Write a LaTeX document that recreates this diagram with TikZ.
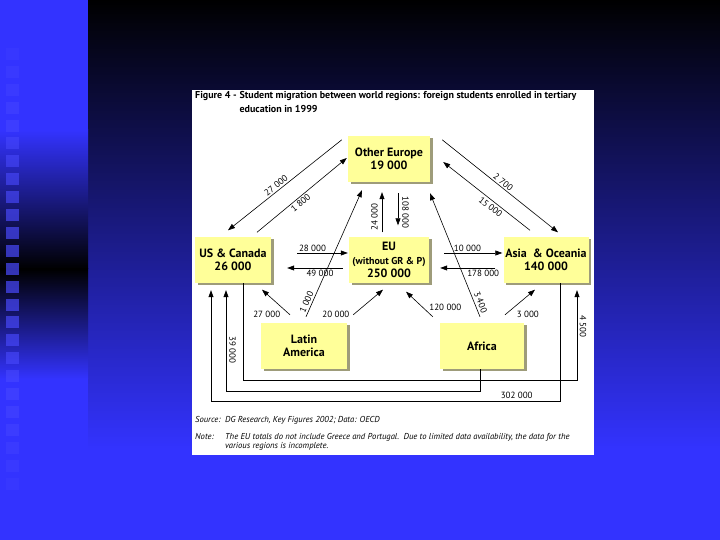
\documentclass[tikz,border=0pt]{standalone}
\usepackage{fontspec}
\setmainfont{PT Sans}
\usetikzlibrary{arrows.meta, positioning, calc, shadows}
\definecolor{slideblue}{HTML}{3333FF}
\definecolor{squareblue}{HTML}{4A4AFF}
\definecolor{boxyellow}{HTML}{FFFF99}
\definecolor{boxshade}{HTML}{9E9C7A}

\begin{document}
\begin{tikzpicture}[x=1pt, y=1pt,
    region/.style={fill=boxyellow, minimum width=#1, minimum height=46pt,
      align=center, inner sep=1pt, font=\fontsize{12}{13.5}\selectfont\bfseries,
      drop shadow={shadow xshift=2.5pt, shadow yshift=-2.5pt, fill=boxshade, opacity=1}},
    flow/.style={line width=0.6pt, -{Triangle[length=7pt, width=5pt]}},
    num/.style={font=\fontsize{9}{10}\selectfont, inner sep=1.5pt}]
  \useasboundingbox (0,0) rectangle (720,540);

  % Slide background
  \fill[slideblue] (0,0) rectangle (720,540);
  \shade[top color=black, bottom color=slideblue] (88,90) rectangle (720,540);
  \shade[top color=slideblue, bottom color=black] (0,271) rectangle (88,410);
  \shade[top color=black, bottom color=slideblue] (0,161) rectangle (88,271);
  \foreach \k in {0,...,24}
    \fill[squareblue, opacity={0.2+0.5*sin(\k*7.5)}] (6,492-17.9*\k) rectangle ++(12.5,-12);

  % Figure panel
  \fill[white] (192,85) rectangle (594,450);
  \node[anchor=base west, inner sep=0pt, font=\fontsize{10}{14}\selectfont\bfseries] (title) at (195,441)
    {\begin{tabular}[t]{@{}l@{\hspace{3pt}}l@{}}
      Figure 4 - & Student migration between world regions: foreign students enrolled in tertiary\\
      & education in 1999
    \end{tabular}};

  % Regions
  \node[region=82pt] (oe) at (389,381) {Other Europe\\19 000};
  \node[region=76pt] (us) at (233,280) {US \& Canada\\26 000};
  \node[region=80pt] (eu) at (389,280) {EU\\{\fontsize{10}{11.5}\selectfont(without GR \& P)}\\250 000};
  \node[region=85pt] (ao) at (546,280) {Asia~ \& Oceania\\140 000};
  \node[region=86pt] (la) at (304,194) {Latin\\America};
  \node[region=84pt] (af) at (482,194) {Africa};

  % Flows to and from Other Europe
  \draw[flow] ($(oe.north west)+(-6,-4)$) -- node[num, pos=0.55, sloped, above] {27 000} ($(us.north)+(-5,6.5)$);
  \draw[flow] ($(us.north)+(24,4.5)$) -- node[num, pos=0.45, sloped, below] {1 800} ($(oe.west)+(-1,1)$);
  \draw[flow] ($(oe.north east)+(12,-4)$) -- node[num, pos=0.5, sloped, above] {2 700} ($(ao.north)+(12,4.5)$);
  \draw[flow] ($(ao.north)+(-16,6.5)$) -- node[num, pos=0.41, sloped, below, inner sep=2.5pt] {15 000} ($(oe.east)+(13,-3)$);
  \draw[flow] ($(eu.north)+(-7,4.5)$) -- node[num, pos=0.375, rotate=90, anchor=south, inner sep=4pt] {24 000} ($(oe.south)+(-7,-10)$);
  \draw[flow] ($(oe.south)+(9,-11)$) -- node[num, pos=0.61, rotate=-90, anchor=south, inner sep=4pt] {108 000} ($(eu.north)+(9,11.5)$);
  \draw[flow] ($(la.north)+(2,6)$) -- node[num, pos=0.1, sloped, above, inner sep=2pt] {1 000} ($(oe.south)+(-27,-8)$);
  \draw[flow] ($(af.north)+(-2,6)$) -- node[num, pos=0.1, sloped, above, inner sep=2.5pt] {3 400} ($(oe.south)+(41,-11)$);

  % Flows along the middle row
  \draw[flow] ($(us.east)+(26,7)$) -- node[num, pos=0, anchor=south west] {28 000} ($(eu.west)+(-1,7)$);
  \draw[flow] ($(eu.west)+(-6,-8)$) -- node[num, pos=0.41, below] {49 000} ($(us.east)+(16,-8)$);
  \draw[flow] ($(eu.east)+(15,7)$) -- node[num, pos=0.4, above] {10 000} ($(ao.west)+(-1,7)$);
  \draw[flow] ($(ao.west)+(-8,-8)$) -- node[num, pos=0.22, below] {178 000} ($(eu.east)+(11,-8)$);

  % Flows from Latin America and Africa
  \draw[flow] ($(la.north)+(-14,8)$) -- node[num, pos=0, left=8pt] {27 000} ($(us.south)+(29,-6.5)$);
  \draw[flow] ($(la.north east)+(6,8)$) -- node[num, pos=0, left=2pt] {20 000} ($(eu.south)+(-6,-6.5)$);
  \draw[flow] ($(af.north west)+(-7,6)$) -- node[num, pos=0.38, right=5pt] {120 000} ($(eu.south)+(17,-8.5)$);
  \draw[flow] ($(af.north)+(23,8)$) -- node[num, pos=0, right=10pt] {3 000} ($(ao.south)+(-11,-6.5)$);

  % Long flows below the boxes
  \draw[flow] ($(us.south)+(10,0)$) -- ++(0,-97) -| node[num, pos=0.8, rotate=-90, anchor=south, inner sep=2.5pt] {4 500} ($(ao.south)+(31,-7)$);
  \draw[flow] ($(af.south)+(-2,0)$) -- ++(0,-22) -| node[num, pos=0.705, rotate=-90, anchor=south, inner sep=3pt] {39 000} ($(us.south)+(-7,-7)$);
  \draw[flow] ($(ao.south)+(14,0)$) -- ++(0,-118) -| node[num, pos=0.062, above, inner sep=2.5pt] {302 000} ($(us.south)+(-22,-7)$);

  % Source and note
  \node[anchor=base west, inner sep=0pt, font=\fontsize{8.6}{9}\selectfont\itshape] (note) at (195,117.5)
    {\begin{tabular}[t]{@{}p{30pt}@{}l@{}}
      Source: & DG Research, Key Figures 2002; Data: OECD\\[8pt]
      Note: & The EU totals do not include Greece and Portugal.\ \ Due to limited data availability, the data for the\\
      & various regions is incomplete.
    \end{tabular}};
\end{tikzpicture}
\end{document}
